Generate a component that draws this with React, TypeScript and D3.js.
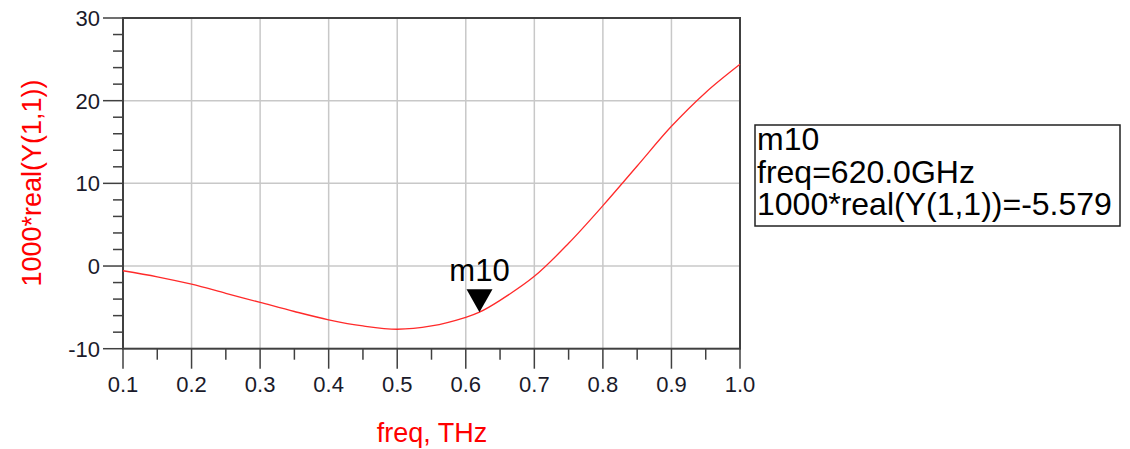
import React from 'react';
import * as d3 from 'd3';

// freq in THz, value = 1000*real(Y(1,1))
const freqs = [0.1, 0.15, 0.2, 0.25, 0.3, 0.35, 0.4, 0.45, 0.5, 0.55, 0.6, 0.62, 0.65, 0.7, 0.75, 0.8, 0.85, 0.9, 0.95, 1.0];
const values = [-0.57, -1.3, -2.2, -3.3, -4.4, -5.5, -6.5, -7.25, -7.65, -7.25, -6.2, -5.579, -4.15, -1.25, 2.75, 7.3, 12.1, 16.9, 21.0, 24.4];

const xMajor = [0.1, 0.2, 0.3, 0.4, 0.5, 0.6, 0.7, 0.8, 0.9, 1.0];
const xMinor = [0.15, 0.25, 0.35, 0.45, 0.55, 0.65, 0.75, 0.85, 0.95];
const yMajor = [-10, 0, 10, 20, 30];
const yMinor = [-8, -6, -4, -2, 2, 4, 6, 8, 12, 14, 16, 18, 22, 24, 26, 28];

const markerName = 'm10';
const markerFreq = 0.62;
const markerValue = -5.579;
const markerLines = ['m10', 'freq=620.0GHz', '1000*real(Y(1,1))=-5.579'];

const W = 1130;
const H = 449;
const FONT = '"Liberation Sans", Arial, sans-serif';

const App = () => {
    const svgRef = React.useRef<SVGSVGElement>(null);

    React.useEffect(() => {
        const svg = d3.select(svgRef.current);
        svg.selectAll('*').remove();

        const x = d3.scaleLinear().domain([0.1, 1.0]).range([123, 740]);
        const y = d3.scaleLinear().domain([-10, 30]).range([348.7, 18]);

        // grid
        const grid = svg.append('g').attr('stroke', '#c8c8c8').attr('stroke-width', 1.5);
        grid.selectAll('line.v').data(xMajor.slice(1, -1)).enter().append('line')
            .attr('x1', d => x(d)).attr('x2', d => x(d))
            .attr('y1', y(-10)).attr('y2', y(30));
        grid.selectAll('line.h').data(yMajor.slice(1, -1)).enter().append('line')
            .attr('x1', x(0.1)).attr('x2', x(1.0))
            .attr('y1', d => y(d)).attr('y2', d => y(d));

        // ticks
        const ax = svg.append('g').attr('stroke', '#404040').attr('stroke-width', 1.5);
        ax.selectAll('line.ym').data(yMajor).enter().append('line')
            .attr('x1', x(0.1) - 20).attr('x2', x(0.1))
            .attr('y1', d => y(d)).attr('y2', d => y(d));
        ax.selectAll('line.yn').data(yMinor).enter().append('line')
            .attr('x1', x(0.1) - 10).attr('x2', x(0.1))
            .attr('y1', d => y(d)).attr('y2', d => y(d));
        ax.selectAll('line.xm').data(xMajor).enter().append('line')
            .attr('x1', d => x(d)).attr('x2', d => x(d))
            .attr('y1', y(-10)).attr('y2', y(-10) + 20);
        ax.selectAll('line.xn').data(xMinor).enter().append('line')
            .attr('x1', d => x(d)).attr('x2', d => x(d))
            .attr('y1', y(-10)).attr('y2', y(-10) + 11);

        // frame
        svg.append('rect')
            .attr('x', x(0.1)).attr('y', y(30))
            .attr('width', x(1.0) - x(0.1)).attr('height', y(-10) - y(30))
            .attr('fill', 'none').attr('stroke', '#404040').attr('stroke-width', 2);

        // tick labels
        svg.append('g').selectAll('text').data(yMajor).enter().append('text')
            .attr('x', x(0.1) - 23).attr('y', d => y(d)).attr('dy', '0.36em')
            .attr('text-anchor', 'end')
            .style('font', `22px ${FONT}`).attr('fill', '#1a1a2a')
            .text(d => String(d));
        svg.append('g').selectAll('text').data(xMajor).enter().append('text')
            .attr('x', d => x(d)).attr('y', 392)
            .attr('text-anchor', 'middle')
            .style('font', `22px ${FONT}`).attr('fill', '#1a1a2a')
            .text(d => d3.format('.1f')(d));

        // axis titles
        svg.append('text')
            .attr('x', 432).attr('y', 442)
            .attr('text-anchor', 'middle')
            .style('font', `27px ${FONT}`).attr('fill', '#ff0000')
            .text('freq, THz');
        svg.append('text')
            .attr('transform', 'translate(41,183) rotate(-90)')
            .attr('text-anchor', 'middle')
            .style('font', `27px ${FONT}`).attr('fill', '#ff0000')
            .text('1000*real(Y(1,1))');

        // curve
        const line = d3.line<number>()
            .x((d, i) => x(freqs[i]))
            .y(d => y(d))
            .curve(d3.curveCatmullRom.alpha(0.5));
        svg.append('path')
            .datum(values)
            .attr('d', line)
            .attr('fill', 'none')
            .attr('stroke', '#ff2a2a')
            .attr('stroke-width', 1.3);

        // marker
        const mx = x(markerFreq);
        const my = y(markerValue);
        svg.append('path')
            .attr('d', `M${mx - 13},${my - 23}L${mx + 13},${my - 23}L${mx},${my}Z`)
            .attr('fill', '#000');
        svg.append('text')
            .attr('x', mx).attr('y', my - 31)
            .attr('text-anchor', 'middle')
            .style('font', `31px ${FONT}`).attr('fill', '#000')
            .text(markerName);

        // marker readout box
        svg.append('rect')
            .attr('x', 755).attr('y', 125)
            .attr('width', 365).attr('height', 101)
            .attr('fill', '#fff').attr('stroke', '#222').attr('stroke-width', 1.5);
        svg.append('g').selectAll('text').data(markerLines).enter().append('text')
            .attr('x', 757).attr('y', (d, i) => 150 + i * 32.5)
            .style('font', `32px ${FONT}`).attr('fill', '#000')
            .text(d => d);
    }, []);

    return (
        <div style={{ position: 'absolute', left: 0, top: 0 }}>
            <svg ref={svgRef} width={W} height={H} style={{ display: 'block', background: '#fff' }} />
        </div>
    );
};

export default App;
